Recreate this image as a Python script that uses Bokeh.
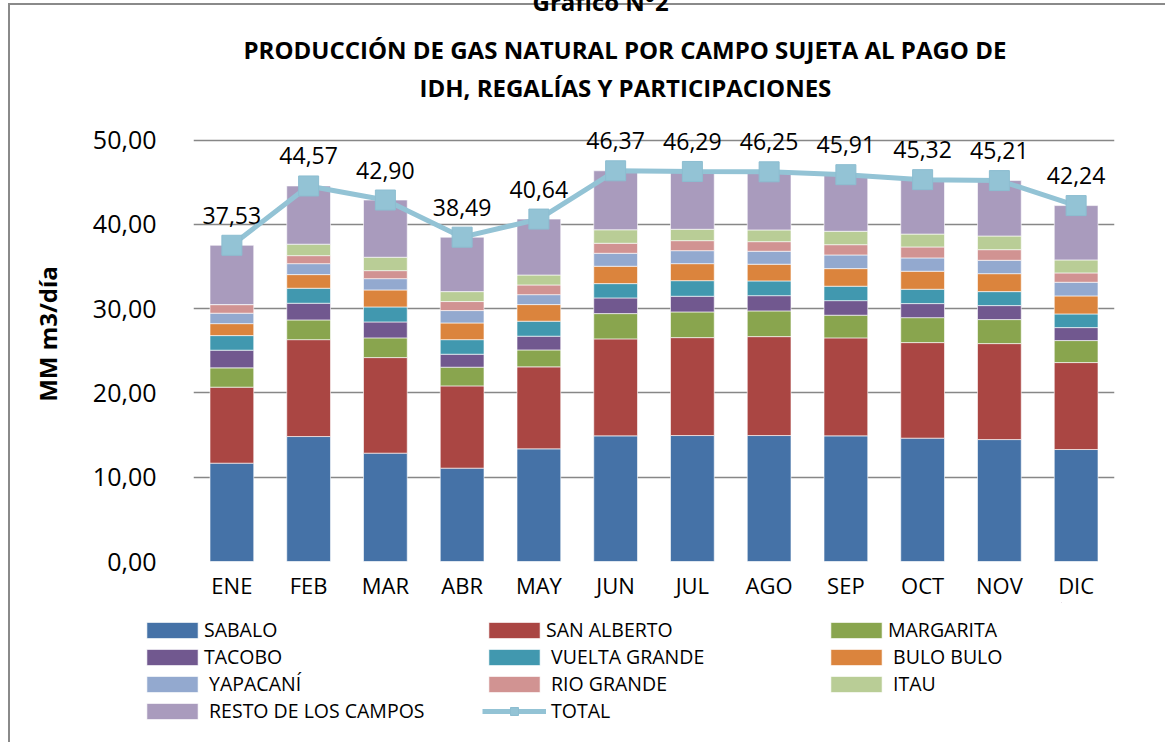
from bokeh.plotting import figure
from bokeh.models import (ColumnDataSource, FactorRange, Range1d, Legend, LegendItem,
                          LabelSet, Title, CustomJSTickFormatter, FixedTicker, Column)
from bokeh.core.properties import value
from bokeh.embed import file_html
from bokeh.resources import INLINE

months = ["ENE", "FEB", "MAR", "ABR", "MAY", "JUN", "JUL", "AGO", "SEP", "OCT", "NOV", "DIC"]

sabalo        = [11.67, 14.83, 12.86, 11.08, 13.37, 14.91, 14.95, 14.95, 14.91, 14.64, 14.47, 13.29]
san_alberto   = [9.02, 11.50, 11.34, 9.76, 9.73, 11.51, 11.62, 11.74, 11.63, 11.34, 11.39, 10.32]
margarita     = [2.29, 2.34, 2.34, 2.22, 2.01, 3.00, 3.05, 3.05, 2.69, 2.96, 2.85, 2.61]
tacobo        = [2.10, 1.98, 1.89, 1.54, 1.63, 1.86, 1.86, 1.81, 1.73, 1.67, 1.66, 1.54]
vuelta_grande = [1.73, 1.78, 1.78, 1.73, 1.78, 1.70, 1.85, 1.75, 1.71, 1.70, 1.66, 1.62]
bulo_bulo     = [1.42, 1.62, 2.02, 1.98, 1.97, 2.06, 2.02, 1.98, 2.09, 2.14, 2.13, 2.14]
yapacani      = [1.24, 1.30, 1.34, 1.47, 1.18, 1.54, 1.54, 1.54, 1.62, 1.58, 1.59, 1.62]
rio_grande    = [1.02, 0.95, 0.95, 1.07, 1.15, 1.19, 1.19, 1.14, 1.22, 1.30, 1.26, 1.11]
itau          = [0.00, 1.36, 1.59, 1.18, 1.18, 1.60, 1.35, 1.39, 1.59, 1.53, 1.62, 1.54]
resto         = [7.04, 6.91, 6.79, 6.46, 6.64, 7.00, 6.86, 6.90, 6.72, 6.46, 6.58, 6.45]
total         = [37.53, 44.57, 42.90, 38.49, 40.64, 46.37, 46.29, 46.25, 45.91, 45.32, 45.21, 42.24]

series_names = ["SABALO", "SAN ALBERTO", "MARGARITA", "TACOBO", " VUELTA GRANDE", " BULO BULO",
                " YAPACANÍ", " RIO GRANDE", " ITAU", " RESTO DE LOS CAMPOS"]
total_name = " TOTAL"
y_ticks = [0, 10, 20, 30, 40, 50]

fields = ["sabalo", "san_alberto", "margarita", "tacobo", "vuelta_grande", "bulo_bulo",
          "yapacani", "rio_grande", "itau", "resto"]
colors = ["#4572A7", "#AA4643", "#89A54E", "#71588F", "#4198AF", "#DB843D",
          "#93A9CF", "#D19392", "#B9CD96", "#A99BBD"]
line_color = "#93C3D5"
frame_gray = "#8a8a8a"

src = ColumnDataSource(dict(
    month=months, sabalo=sabalo, san_alberto=san_alberto, margarita=margarita, tacobo=tacobo,
    vuelta_grande=vuelta_grande, bulo_bulo=bulo_bulo, yapacani=yapacani, rio_grande=rio_grande,
    itau=itau, resto=resto, total=total,
    label=[("%.2f" % v).replace(".", ",") for v in total],
))

FONT = "Open Sans"

# ---------------- main chart ----------------
p = figure(x_range=FactorRange(*months), y_range=Range1d(0, 54),
           frame_width=921, frame_height=455,
           min_border_left=193, min_border_right=51, min_border_top=131, min_border_bottom=39,
           output_backend="svg", toolbar_location=None, title=None,
           background_fill_color="white", border_fill_color=None)
p.outline_line_color = None
p.styles = {
    "background-image": f"linear-gradient({frame_gray}, {frame_gray}), linear-gradient({frame_gray}, {frame_gray})",
    "background-size": "2px 100%, 100% 2px",
    "background-position": "8px 32px, 8px 32px",
    "background-repeat": "no-repeat",
}

p.xaxis.axis_line_color = None
p.xaxis.major_tick_line_color = None
p.xaxis.minor_tick_line_color = None
p.xaxis.major_label_text_font = FONT
p.xaxis.major_label_text_font_size = "22px"
p.xaxis.major_label_text_color = "black"
p.xaxis.major_label_standoff = 2

p.yaxis.ticker = FixedTicker(ticks=y_ticks)
p.yaxis.formatter = CustomJSTickFormatter(code="return tick.toFixed(2).replace('.', ',');")
p.yaxis.axis_line_color = None
p.yaxis.major_tick_line_color = None
p.yaxis.minor_tick_line_color = None
p.yaxis.major_label_text_font = FONT
p.yaxis.major_label_text_font_size = "25px"
p.yaxis.major_label_text_color = "black"
p.yaxis.major_label_standoff = 31
p.yaxis.axis_label = "MM m3/día"
p.yaxis.axis_label_text_font = FONT
p.yaxis.axis_label_text_font_style = "bold"
p.yaxis.axis_label_text_font_size = "24px"
p.yaxis.axis_label_text_color = "black"
p.yaxis.axis_label_standoff = 26

p.xgrid.grid_line_color = None
p.ygrid.grid_line_color = "#878787"
p.ygrid.grid_line_width = 1.6

bars = p.vbar_stack(fields, x="month", width=0.57, color=colors, source=src,
                    line_color="white", line_width=1, line_alpha=0.6)

p.line(x="month", y="total", source=src, line_color=line_color, line_width=5)
p.scatter(x="month", y="total", source=src, marker="square", size=20,
          fill_color=line_color, line_color="#8CBDD0", line_width=1)

labels = LabelSet(x="month", y="total", text="label", source=src, y_offset=30,
                  text_align="center", text_baseline="middle",
                  text_font=value(FONT), text_font_size=value("23px"), text_color="black")
p.add_layout(labels)

# titles (first added is closest to the frame)
p.add_layout(Title(text="IDH, REGALÍAS Y PARTICIPACIONES", align="left", offset=226,
                   text_font=FONT, text_font_style="bold", text_font_size="24px",
                   text_color="black", standoff=5), "above")
p.add_layout(Title(text="PRODUCCIÓN DE GAS NATURAL POR CAMPO SUJETA  AL PAGO DE", align="left",
                   offset=50, text_font=FONT, text_font_style="bold", text_font_size="24px",
                   text_color="black", standoff=2), "above")
p.add_layout(Title(text="Gráfico N°2", align="left", offset=339,
                   text_font=FONT, text_font_style="bold", text_font_size="24px",
                   text_color="black", standoff=23), "above")

# ---------------- legend strip ----------------
q = figure(width=1165, height=140, x_range=Range1d(0, 1), y_range=Range1d(0, 1),
           min_border_left=0, min_border_top=0, min_border_right=0, min_border_bottom=0,
           x_axis_location=None, y_axis_location=None,
           output_backend="svg", toolbar_location=None, title=None,
           background_fill_color=None, border_fill_color=None)
q.outline_line_color = None
q.grid.visible = False
q.styles = {
    "transform": "translateX(-53px)",
    "background-image": f"linear-gradient({frame_gray}, {frame_gray})",
    "background-size": "2px 100%",
    "background-position": "61px 0px",
    "background-repeat": "no-repeat",
}

# legend keys: same styles as the chart marks (their data lie outside this strip's ranges)
key_bars = [q.vbar(x="total", top="total", bottom="total", width=0.5, source=src, fill_color=c,
                   line_color="white", line_alpha=0.6) for c in colors]
key_line = q.line(x="total", y="total", source=src, line_color=line_color, line_width=5)
key_mark = q.scatter(x="total", y="total", source=src, marker="square", size=14,
                     fill_color=line_color, line_color="#8CBDD0")

items = [LegendItem(label=n, renderers=[r]) for n, r in zip(series_names, key_bars)]
items.append(LegendItem(label=total_name, renderers=[key_line, key_mark]))
legend = Legend(items=items, location=(0, 18), orientation="horizontal", ncols=3,
                glyph_width=64, glyph_height=20, label_standoff=0, label_width=278,
                label_height=20, spacing=0, padding=0, margin=0,
                border_line_color=None, background_fill_alpha=0,
                label_text_font=FONT, label_text_font_size="19.5px", label_text_color="black")
q.add_layout(legend)

root = Column(children=[p, q], spacing=0)
root.styles = {"margin-top": "-29px"}

open("out.html", "w").write(file_html(root, INLINE))
